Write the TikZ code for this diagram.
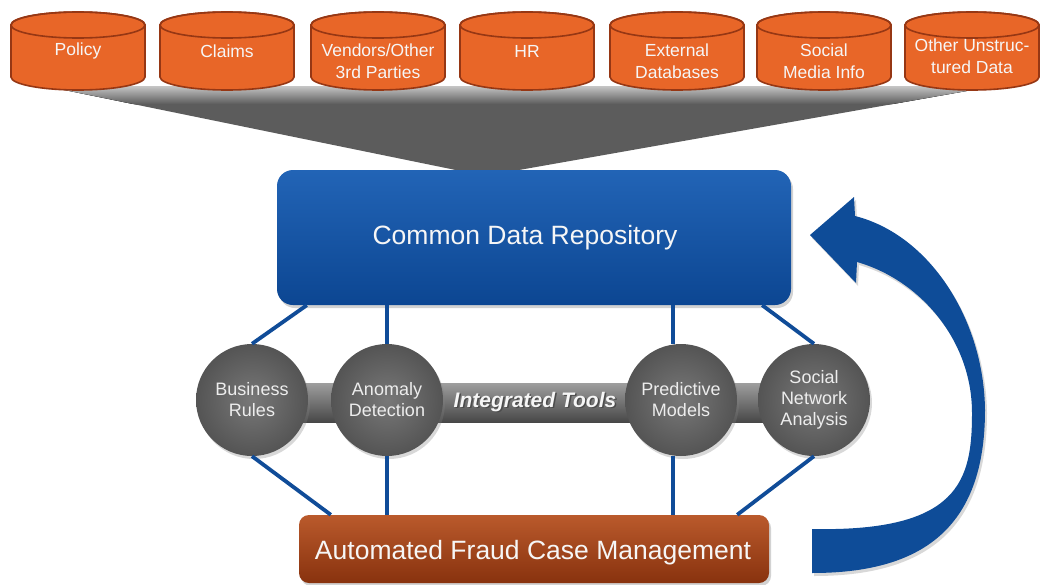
\documentclass[tikz,border=0pt]{standalone}
\usepackage{fontspec}
\setmainfont{Liberation Sans}
\usetikzlibrary{shadows,calc}
\definecolor{cylfill}{RGB}{232,102,40}
\definecolor{cyldraw}{RGB}{150,55,20}
\definecolor{blueline}{RGB}{16,76,152}
\definecolor{cdrtop}{RGB}{34,100,182}
\definecolor{cdrbot}{RGB}{12,70,146}
\definecolor{aftop}{RGB}{186,90,44}
\definecolor{afbot}{RGB}{136,50,14}
\definecolor{arrowblue}{RGB}{14,76,152}
\definecolor{txtwhite}{RGB}{246,246,246}
\definecolor{funneldark}{RGB}{92,92,92}
\newcommand\dbcyl[4]{%
  \fill[cylfill] (#2-67,25) -- (#2-67,77) arc[start angle=180,end angle=360,x radius=67pt,y radius=13pt] -- (#2+67,25) arc[start angle=0,end angle=180,x radius=67pt,y radius=13pt] -- cycle;
  \draw[cylline] (#2-67,25) -- (#2-67,77) arc[start angle=180,end angle=360,x radius=67pt,y radius=13pt] -- (#2+67,25) arc[start angle=0,end angle=180,x radius=67pt,y radius=13pt] -- cycle;
  \draw[cylline] (#2,25) ellipse[x radius=67pt,y radius=13pt];
  \node[cyltext] (#1) at (#2,#3) {#4};
}
\begin{document}
\begin{tikzpicture}[x=1pt,y=-1pt,
  cylline/.style={draw=cyldraw,line width=1.6pt},
  cyltext/.style={text=txtwhite,align=center,font=\fontsize{17.5}{21.5}\selectfont,inner sep=0pt},
  cdrbox/.style={rectangle,rounded corners=16pt,minimum width=514pt,minimum height=135pt,
    top color=cdrtop,bottom color=cdrbot,draw=none,
    drop shadow={opacity=0.35,shadow xshift=2pt,shadow yshift=-3pt}},
  afbox/.style={rectangle,rounded corners=10pt,minimum width=470pt,minimum height=68pt,
    top color=aftop,bottom color=afbot,draw=none,
    drop shadow={opacity=0.35,shadow xshift=2pt,shadow yshift=-3pt}},
  bigtext/.style={text=txtwhite,font=\fontsize{26.5}{30}\selectfont,inner sep=0pt},
  tool/.style={circle,minimum size=112pt,inner sep=0pt,inner color=black!53,outer color=black!67,
    text=black!7,align=center,font=\fontsize{18}{21}\selectfont,
    drop shadow={opacity=0.3,shadow xshift=2pt,shadow yshift=-3pt}},
  conn/.style={draw=blueline,line width=3.8pt},
  ittext/.style={font=\fontsize{21}{24}\selectfont\bfseries\itshape,inner sep=0pt}
]
\fill[white] (0,0) rectangle (1047,584);
\useasboundingbox (0,0) rectangle (1047,584);

% funnel
\fill[funneldark] (45,86) -- (995,86) -- (485,176) -- cycle;
\begin{scope}
  \clip (45,86) -- (995,86) -- (485,176) -- cycle;
  \fill[top color=black!18,bottom color=funneldark] (0,84) rectangle (1047,104);
\end{scope}

% data sources
\dbcyl{policy}{78}{51}{Policy}
\dbcyl{claims}{227}{51}{Claims}
\dbcyl{vendors}{378}{61}{Vendors/Other\\3rd Parties}
\dbcyl{hr}{527}{51}{HR}
\dbcyl{external}{677}{61}{External\\Databases}
\dbcyl{social}{824}{61}{Social\\Media Info}
\dbcyl{other}{972}{56}{Other Unstruc-\\tured Data}

% common data repository
\node[cdrbox] (cdr) at (534,237.5) {};
\node[bigtext] (cdrt) at (525,238) {Common Data Repository};

% integrated tools bar
\fill[top color=black!38,middle color=black!55,bottom color=black!72] (252,383) rectangle (814,422);

% case management box
\node[afbox] (afcm) at (534,549) {};
\node[bigtext] (afcmt) at (533,553) {Automated Fraud Case Management};

% circles
\node[tool] (br) at (252,400) {Business\\Rules};
\node[tool] (an) at (387,400) {Anomaly\\Detection};
\node[tool] (pm) at (681,400) {Predictive\\Models};
\node[tool] (sn) at (814,400) {Social\\Network\\Analysis};

% connectors
\draw[conn] ([xshift=30pt]cdr.south west) -- (br.north);
\draw[conn] (an.north |- cdr.south) -- (an.north);
\draw[conn] ([xshift=-8pt]pm.north |- cdr.south) -- ([xshift=-8pt]pm.north);
\draw[conn] ([xshift=-29pt]cdr.south east) -- (sn.north);
\draw[conn] (br.south) -- ([xshift=32pt]afcm.north west);
\draw[conn] (an.south) -- (an.south |- afcm.north);
\draw[conn] ([xshift=-8pt]pm.south) -- ([xshift=-8pt]pm.south |- afcm.north);
\draw[conn] (sn.south) -- ([xshift=-32pt]afcm.north east);

% integrated tools label
\node[ittext,text=black!70] at (536.5,403.5) {Integrated Tools};
\node[ittext,text=txtwhite] (it) at (535,402) {Integrated Tools};

% feedback arrow
\fill[arrowblue,drop shadow={opacity=0.3,shadow xshift=2pt,shadow yshift=-3pt}]
  (810,235) -- (854,197) -- (855,216)
  .. controls (930,235) and (984,320) .. (985,410)
  .. controls (985,530) and (920,573) .. (812,573)
  -- (812,529)
  .. controls (960,532) and (972,480) .. (972,413)
  .. controls (972,340) and (920,280) .. (857,262)
  -- (856,283) -- cycle;
\end{tikzpicture}
\end{document}
